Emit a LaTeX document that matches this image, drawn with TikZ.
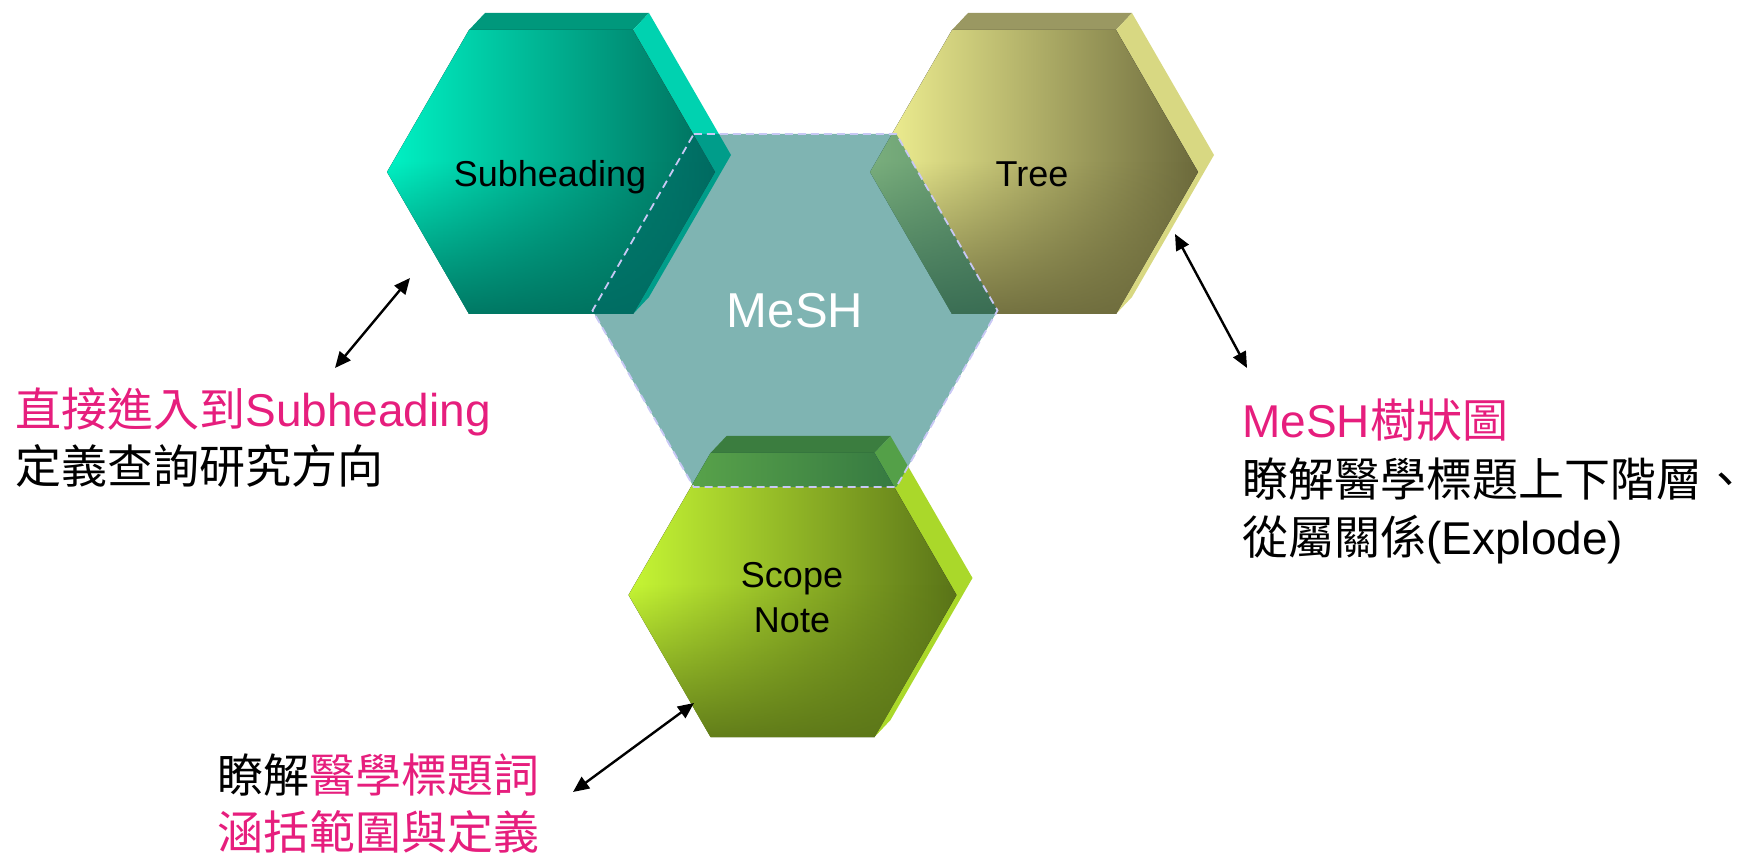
\documentclass[tikz,border=0pt]{standalone}
\usepackage{fontspec}
\setmainfont{Liberation Sans}
\newfontfamily\cjk{Noto Sans CJK TC}
\usetikzlibrary{arrows.meta,fadings}
\definecolor{pinkT}{RGB}{230,30,125}
\definecolor{meshfill}{RGB}{0,105,102}
\definecolor{meshline}{RGB}{200,200,245}
\definecolor{subL}{HTML}{00F2C4}
\definecolor{subD}{HTML}{006E5C}
\definecolor{subT}{HTML}{00987C}
\definecolor{subS}{HTML}{00D2B0}
\definecolor{treL}{HTML}{F4F494}
\definecolor{treD}{HTML}{6C6A3C}
\definecolor{treT}{HTML}{9A9862}
\definecolor{treS}{HTML}{D8D882}
\definecolor{scoL}{HTML}{C6F634}
\definecolor{scoD}{HTML}{5A7418}
\definecolor{scoT}{HTML}{789218}
\definecolor{scoS}{HTML}{AAD82A}
\tikzfading[name=fadedown, top color=transparent!100, bottom color=transparent!0]
\newcommand\HexBlock[6]{%
  \begin{scope}[shift={(#1,#2)}]
    \fill[#5] (-82,-142) -- (82,-142) -- (98,-159) -- (-66,-159) -- cycle;
    \fill[#6] (82,-142) -- (98,-159) -- (180,-17) -- (98,125) -- (82,142) -- (164,0) -- cycle;
    \fill[left color=#3, middle color=#3!55!#4, right color=#4]
      (-164,0) -- (-82,-142) -- (82,-142) -- (164,0) -- (82,142) -- (-82,142) -- cycle;
    \begin{scope}
      \clip (-164,0) -- (-82,-142) -- (82,-142) -- (164,0) -- (82,142) -- (-82,142) -- cycle;
      \fill[#4, path fading=fadedown, fill opacity=0.9] (-170,-10) rectangle (170,143);
    \end{scope}
  \end{scope}}
\tikzset{
  hexlabel/.style={font=\fontsize{18}{22.5}\selectfont, text=black, inner sep=0pt},
  annot/.style={font=\fontsize{23}{28}\selectfont, inner sep=0pt, anchor=base west},
  dblarrow/.style={{Triangle[length=8pt,width=7pt]}-{Triangle[length=8pt,width=7pt]}, line width=1.2pt, black}
}
\begin{document}
\begin{tikzpicture}[x=0.5pt,y=-0.5pt]
\useasboundingbox (0,0) rectangle (1754,854);
% hexagon blocks
\HexBlock{551}{172}{subL}{subD}{subT}{subS}
\HexBlock{1034}{172}{treL}{treD}{treT}{treS}
\HexBlock{792.5}{595}{scoL}{scoD}{scoT}{scoS}
% central MeSH hexagon
\fill[meshfill, fill opacity=0.5] (693.75,134) -- (896.25,134) -- (997.5,310.5) -- (896.25,487) -- (693.75,487) -- (592.5,310.5) -- cycle;
\draw[meshline, line width=0.9pt, dash pattern=on 4pt off 2.5pt] (693.75,134) -- (896.25,134) -- (997.5,310.5) -- (896.25,487) -- (693.75,487) -- (592.5,310.5) -- cycle;
% hexagon labels
\node[hexlabel, anchor=base] (sub) at (550,187) {Subheading};
\node[hexlabel, anchor=base] (tree) at (1032,187) {Tree};
\node[hexlabel, align=center] (scope) at (792,598) {Scope\\Note};
\node[font=\fontsize{24.5}{28}\selectfont, text=white, inner sep=0pt, anchor=base] (mesh) at (795,328) {MeSH};
% annotations
\node[annot, text=pinkT] (l1) at (15,427) {{\cjk 直接進入到}Subheading};
\node[annot] (l2) at (15,484) {\cjk 定義查詢研究方向};
\node[annot, text=pinkT] (r1) at (1242,438) {MeSH{\cjk 樹狀圖}};
\node[annot] (r2) at (1242,497) {\cjk 瞭解醫學標題上下階層、};
\node[annot] (r3) at (1242,555) {{\cjk 從屬關係}(Explode)};
\node[annot] (b1) at (217,792) {{\cjk 瞭解}{\cjk\color{pinkT}醫學標題詞}};
\node[annot, text=pinkT] (b2) at (217,849) {\cjk 涵括範圍與定義};
% arrows
\coordinate (a1s) at (410,278);
\coordinate (a1e) at (335,368);
\coordinate (a2s) at (1175,234);
\coordinate (a2e) at (1247,368);
\coordinate (a3s) at (694,703);
\coordinate (a3e) at (573,792);
\draw[dblarrow] (a1e) -- (a1s);
\draw[dblarrow] (a2s) -- (a2e);
\draw[dblarrow] (a3e) -- (a3s);
\end{tikzpicture}
\end{document}
